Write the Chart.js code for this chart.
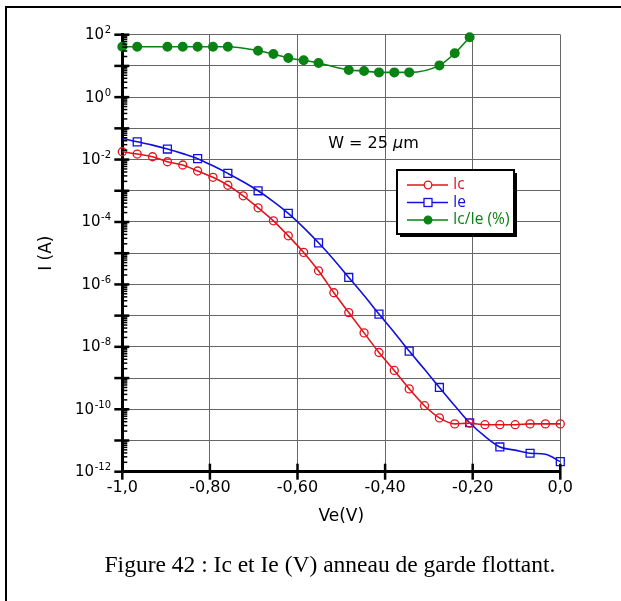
<!DOCTYPE html>
<html>
<head>
<meta charset="utf-8">
<script src="https://cdn.jsdelivr.net/npm/chart.js@4.4.1/dist/chart.umd.min.js"></script>
<style>
  body { margin: 0; background: #fff; }
  #frame { position: absolute; left: 5px; top: 6px; width: 616px; height: 595px;
           border-top: 2.5px solid #000; border-left: 2.5px solid #000; }
  #fig { position: absolute; left: 0; top: 0; }
  #caption { position: absolute; left: 30px; width: 600px; top: 551px; text-align: center;
             font-family: "Liberation Serif", "Times New Roman", serif; font-size: 23.5px; color: #000; }
</style>
</head>
<body>
<div id="frame"></div>
<canvas id="fig" width="621" height="601"></canvas>
<div id="caption">Figure 42 : Ic et Ie (V) anneau de garde flottant.</div>
<script>
// Ve (V) sample points
const ve = [-1.000, -0.966, -0.931, -0.897, -0.862, -0.828, -0.793, -0.759, -0.724, -0.690,
            -0.655, -0.621, -0.586, -0.552, -0.517, -0.483, -0.448, -0.414, -0.379, -0.345,
            -0.310, -0.276, -0.241, -0.207, -0.172, -0.138, -0.103, -0.069, -0.034, 0.000];
// collector current (A)
const ic = [1.78e-2, 1.5e-2, 1.23e-2, 8.5e-3, 6.7e-3, 4.3e-3, 2.7e-3, 1.5e-3, 6.9e-4, 2.85e-4,
            1.09e-4, 3.6e-5, 1.06e-5, 2.73e-6, 5.4e-7, 1.25e-7, 2.8e-8, 6.6e-9, 1.75e-9, 4.5e-10,
            1.3e-10, 5.3e-11, 3.4e-11, 3.6e-11, 3.2e-11, 3.2e-11, 3.2e-11, 3.4e-11, 3.4e-11, 3.4e-11];
// emitter current (A), markers only on every other point
const ie = [4.8e-2, 3.7e-2, 2.9e-2, 2.17e-2, 1.55e-2, 1.07e-2, 6.3e-3, 3.6e-3, 1.95e-3, 1.0e-3,
            4.5e-4, 1.89e-4, 6.6e-5, 2.15e-5, 6.2e-6, 1.67e-6, 4.4e-7, 1.12e-7, 2.9e-8, 7.3e-9,
            1.9e-9, 5.0e-10, 1.3e-10, 3.7e-11, 1.35e-11, 6.2e-12, 4.9e-12, 3.9e-12, 3.6e-12, 2.1e-12];
// Ic/Ie ratio (%)
const veRatio = [-1.000, -0.966, -0.897, -0.862, -0.828, -0.793, -0.759, -0.690, -0.655, -0.621,
                 -0.586, -0.552, -0.483, -0.448, -0.414, -0.379, -0.345, -0.276, -0.241, -0.207];
const ratio = [41, 41, 41, 41, 41, 41, 41, 30.7, 24, 17.9,
               15.1, 12.4, 7.4, 6.9, 6.2, 6.2, 6.2, 10.4, 25.4, 82.6];

const xTickLabels = ['-1,0', '-0,80', '-0,60', '-0,40', '-0,20', '0,0'];
const decades = [-12, -11, -10, -9, -8, -7, -6, -5, -4, -3, -2, -1, 0, 1, 2];
const labelExps = [2, 0, -2, -4, -6, -8, -10, -12];

const RED = '#e0141c', BLUE = '#1010e0', GREEN = '#0a8214';

// ticks, y labels, annotation and legend box
const decorations = {
  id: 'decorations',
  afterDraw(chart) {
    const {ctx, chartArea: a, scales: {x, y}} = chart;
    ctx.save();
    ctx.strokeStyle = '#000';
    // y major ticks
    ctx.lineWidth = 2.5;
    decades.forEach(p => {
      const py = y.getPixelForValue(Math.pow(10, p));
      ctx.beginPath(); ctx.moveTo(a.left - 8, py); ctx.lineTo(a.left + 7, py); ctx.stroke();
    });
    // y minor ticks
    ctx.lineWidth = 1.5;
    decades.slice(0, -1).forEach(p => {
      for (let m = 2; m <= 9; m++) {
        const py = y.getPixelForValue(m * Math.pow(10, p));
        ctx.beginPath(); ctx.moveTo(a.left, py); ctx.lineTo(a.left + 5, py); ctx.stroke();
      }
    });
    // x ticks
    ctx.lineWidth = 2.5;
    x.ticks.forEach(t => {
      const px = x.getPixelForValue(t.value);
      ctx.beginPath(); ctx.moveTo(px, a.bottom - 8); ctx.lineTo(px, a.bottom + 8); ctx.stroke();
    });

    // y labels 10^n
    ctx.fillStyle = '#000';
    labelExps.forEach(p => {
      const py = y.getPixelForValue(Math.pow(10, p));
      const exp = p < 0 ? '-' + (-p) : String(p);
      ctx.font = '10px "DejaVu Sans"';
      const ew = ctx.measureText(exp).width;
      ctx.textAlign = 'left'; ctx.textBaseline = 'alphabetic';
      ctx.fillText(exp, 111 - ew, py - 1.5);
      ctx.font = '15px "DejaVu Sans"';
      ctx.textAlign = 'right'; ctx.textBaseline = 'middle';
      ctx.fillText('10', 111 - ew - 0.5, py + 0.5);
    });

    // annotation
    ctx.textBaseline = 'middle'; ctx.textAlign = 'left';
    let tx = x.getPixelForValue(-0.53);
    const ty = y.getPixelForValue(3.1e-2);
    ctx.font = '16px "DejaVu Sans"';
    ctx.fillText('W = 25 ', tx, ty); tx += ctx.measureText('W = 25 ').width;
    ctx.font = 'italic 16px "DejaVu Sans"';
    ctx.fillText('\u03bc', tx, ty); tx += ctx.measureText('\u03bc').width;
    ctx.font = '16px "DejaVu Sans"';
    ctx.fillText('m', tx, ty);

    // legend
    const bx = 397, by = 170, bw = 117, bh = 64;
    ctx.fillStyle = '#000';
    ctx.fillRect(bx + 3, by + 3, bw, bh);
    ctx.fillStyle = '#fff';
    ctx.fillRect(bx, by, bw, bh);
    ctx.lineWidth = 2;
    ctx.strokeRect(bx, by, bw, bh);
    ctx.font = '15.5px "Open Sans"';
    chart.data.datasets.forEach((ds, i) => {
      const ly = 185 + i * 17.5;
      ctx.strokeStyle = ds.borderColor; ctx.lineWidth = 1.5;
      ctx.beginPath(); ctx.moveTo(407, ly); ctx.lineTo(448, ly); ctx.stroke();
      ctx.lineWidth = 1.3;
      if (ds.pointStyle === 'rect') {
        ctx.fillStyle = '#fff';
        ctx.fillRect(424, ly - 4, 8, 8); ctx.strokeRect(424, ly - 4, 8, 8);
      } else {
        ctx.beginPath(); ctx.arc(428, ly, 3.8, 0, Math.PI * 2);
        ctx.fillStyle = ds.filled ? ds.borderColor : '#fff';
        ctx.fill(); ctx.stroke();
      }
      ctx.fillStyle = ds.borderColor;
      ctx.textAlign = 'left'; ctx.textBaseline = 'middle';
      ctx.fillText(ds.label, 453, ly);
    });
    ctx.restore();
  }
};

const gridStyle = { color: '#666', lineWidth: 1, drawTicks: false, borderDash: [1, 1] };

new Chart(document.getElementById('fig'), {
  type: 'line',
  data: {
    datasets: [
      {
        label: 'Ic',
        data: ve.map((v, i) => ({x: v, y: ic[i]})),
        borderColor: RED, backgroundColor: 'rgba(0,0,0,0)',
        borderWidth: 1.6, pointStyle: 'circle', pointRadius: 4, pointBorderWidth: 1.3,
        cubicInterpolationMode: 'monotone', clip: false
      },
      {
        label: 'Ie',
        data: ve.map((v, i) => ({x: v, y: ie[i]})),
        borderColor: BLUE, backgroundColor: 'rgba(0,0,0,0)',
        borderWidth: 1.6, pointStyle: 'rect', pointBorderWidth: 1.3,
        pointRadius: c => (c.dataIndex % 2 ? 5.6 : 0),
        cubicInterpolationMode: 'monotone', clip: false
      },
      {
        label: 'Ic/Ie (%)',
        data: veRatio.map((v, i) => ({x: v, y: ratio[i]})),
        borderColor: GREEN, backgroundColor: GREEN, filled: true,
        borderWidth: 1.6, pointStyle: 'circle', pointRadius: 4.2,
        cubicInterpolationMode: 'monotone', clip: false
      }
    ]
  },
  options: {
    responsive: false,
    animation: false,
    layout: { padding: { left: 0, right: 60.7, top: 34.7, bottom: 69 } },
    plugins: { legend: { display: false }, tooltip: { enabled: false } },
    scales: {
      x: {
        type: 'linear', min: -1, max: 0,
        afterFit: s => { s.height = 60.3; },
        grid: gridStyle,
        border: { display: true, color: '#000', width: 3 },
        ticks: {
          stepSize: 0.2, padding: 7, color: '#000',
          font: { family: '"DejaVu Sans"', size: 16 },
          callback: (v, i) => xTickLabels[i]
        },
        title: { display: true, text: 'Ve(V)', color: '#000',
                 font: { family: '"DejaVu Sans"', size: 17 }, padding: { top: 0, bottom: 5 } }
      },
      y: {
        type: 'logarithmic', min: 1e-12, max: 1e2,
        afterFit: s => { s.width = 122.3; },
        afterBuildTicks: s => { s.ticks = decades.map(p => ({value: Math.pow(10, p)})); },
        grid: gridStyle,
        border: { display: true, color: '#000', width: 3 },
        ticks: { display: false },
        title: { display: true, text: 'I (A)', color: '#000',
                 font: { family: '"DejaVu Sans"', size: 17 }, padding: { top: 36, bottom: 0 } }
      }
    }
  },
  plugins: [decorations]
});
</script>
</body>
</html>
